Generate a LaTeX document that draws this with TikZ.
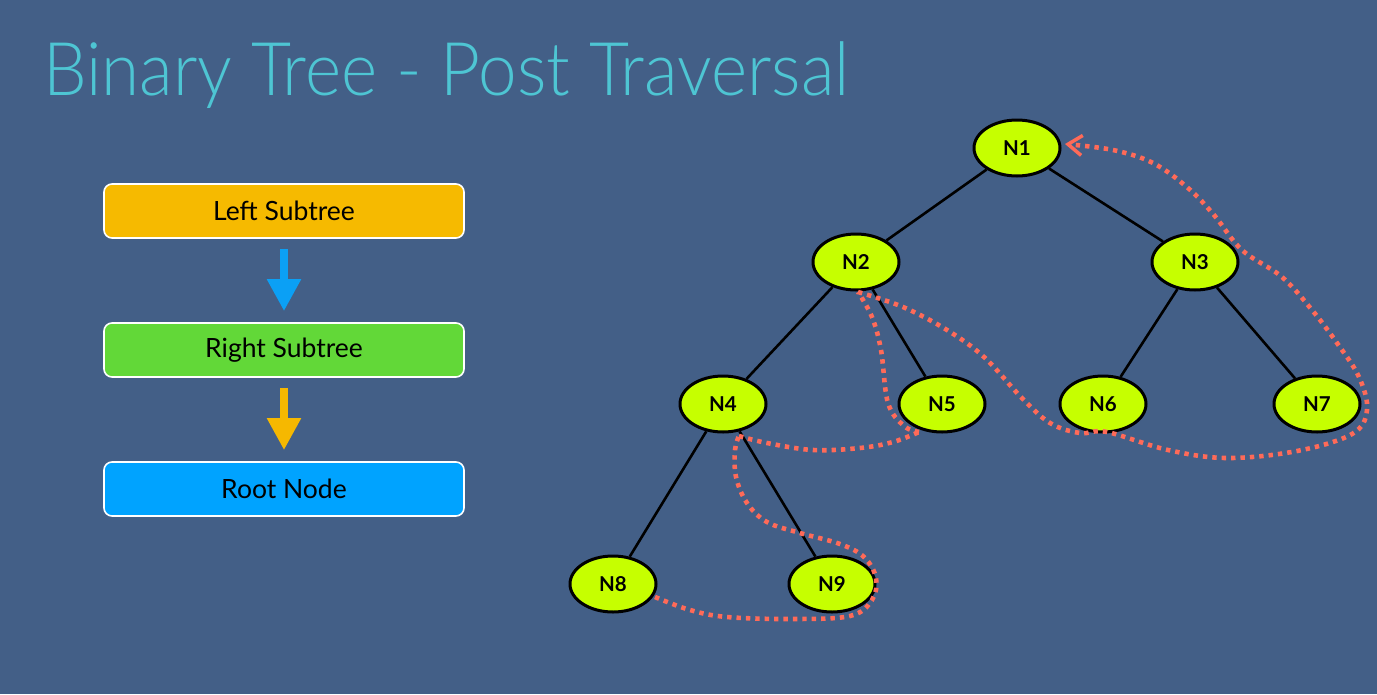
\documentclass[tikz,border=0pt]{standalone}
\usepackage{fontspec}
\setmainfont{Lato}
\newfontfamily\titlefont{Lato Light}
\usetikzlibrary{arrows.meta,shapes.geometric}
\definecolor{bgC}{HTML}{435F87}
\definecolor{titleC}{HTML}{4EC5D3}
\definecolor{orangeC}{HTML}{F6BA00}
\definecolor{greenC}{HTML}{62D838}
\definecolor{blueC}{HTML}{00A3FF}
\definecolor{blueArrow}{HTML}{0BA0F5}
\definecolor{orangeArrow}{HTML}{F6B800}
\definecolor{limeC}{HTML}{C6FF00}
\definecolor{dotC}{HTML}{FF6A58}
\tikzset{
  stepbox/.style={draw=white, line width=1.6pt, rounded corners=8pt, minimum width=360pt, minimum height=54pt, inner sep=0pt, font=\fontsize{26.5}{30}\selectfont, text=black},
  flowarrow/.style={line width=8pt, -{Triangle[width=32pt,length=32pt]}},
  treenode/.style={ellipse, draw=black, line width=3pt, fill=limeC, minimum width=86pt, minimum height=56pt, inner sep=0pt, font=\bfseries\fontsize{20.5}{24}\selectfont},
  edge/.style={draw=black, line width=2.6pt},
  trail/.style={draw=dotC, line width=4.6pt, dash pattern=on 4.4pt off 5pt},
}
\begin{document}
\begin{tikzpicture}[x=1pt,y=-1pt]
\path[fill=bgC] (0,0) rectangle (1377,694);
\useasboundingbox (0,0) rectangle (1377,694);
\node[anchor=base west, inner sep=0pt, text=titleC, font=\titlefont\fontsize{74}{80}\selectfont] (title) at (43,95) {\scalebox{0.935}[1]{Binary Tree - Post Traversal}};

\node[stepbox, fill=orangeC] (left) at (284,211) {Left Subtree};
\node[stepbox, fill=greenC] (right) at (284,350) {Right Subtree};
\node[stepbox, fill=blueC] (root) at (284,489) {Root Node};
\draw[flowarrow, draw=blueArrow, fill=blueArrow] ([yshift=-10pt]left.south) -- ([yshift=11pt]right.north);
\draw[flowarrow, draw=orangeArrow, fill=orangeArrow] ([yshift=-10pt]right.south) -- ([yshift=11pt]root.north);

\node[treenode] (n1) at (1017,148) {N1};
\node[treenode] (n2) at (856,262) {N2};
\node[treenode] (n3) at (1195,262) {N3};
\node[treenode] (n4) at (723,404) {N4};
\node[treenode] (n5) at (942,404) {N5};
\node[treenode] (n6) at (1103,404) {N6};
\node[treenode] (n7) at (1317,404) {N7};
\node[treenode] (n8) at (613,584) {N8};
\node[treenode] (n9) at (832,584) {N9};

\draw[edge] (n1) -- (n2);
\draw[edge] (n1) -- (n3);
\draw[edge] (n2) -- (n4);
\draw[edge] (n2) -- (n5);
\draw[edge] (n3) -- (n6);
\draw[edge] (n3) -- (n7);
\draw[edge] (n4) -- (n8);
\draw[edge] (n4) -- (n9);

% traversal trail
\draw[trail] plot[smooth, tension=0.6] coordinates {(655,597) (690,610) (727,617) (793,619) (850,616) (872,600) (876,578) (864,557) (840,544) (800,533) (767,522) (747,503) (736,477) (735,450) (739,436)};
\draw[trail] plot[smooth, tension=0.6] coordinates {(739,436) (767,443) (813,450) (860,448) (893,442) (919,432)};
\draw[trail] plot[smooth, tension=0.6] coordinates {(919,432) (904,426) (888,403) (881,350) (872,317) (858,292)};
\draw[trail, -{Straight Barb[length=14pt,width=20pt,line width=3.5pt]}] plot[smooth, tension=0.6] coordinates {(858,292) (903,307) (947,330) (984,357) (1021,397) (1050,423) (1080,433) (1107,432) (1168,450) (1227,458) (1297,451) (1352,434) (1367,410) (1359,377) (1337,343) (1312,310) (1282,277) (1242,250) (1214,215) (1188,188) (1153,163) (1113,150) (1065,144)};
\end{tikzpicture}
\end{document}
